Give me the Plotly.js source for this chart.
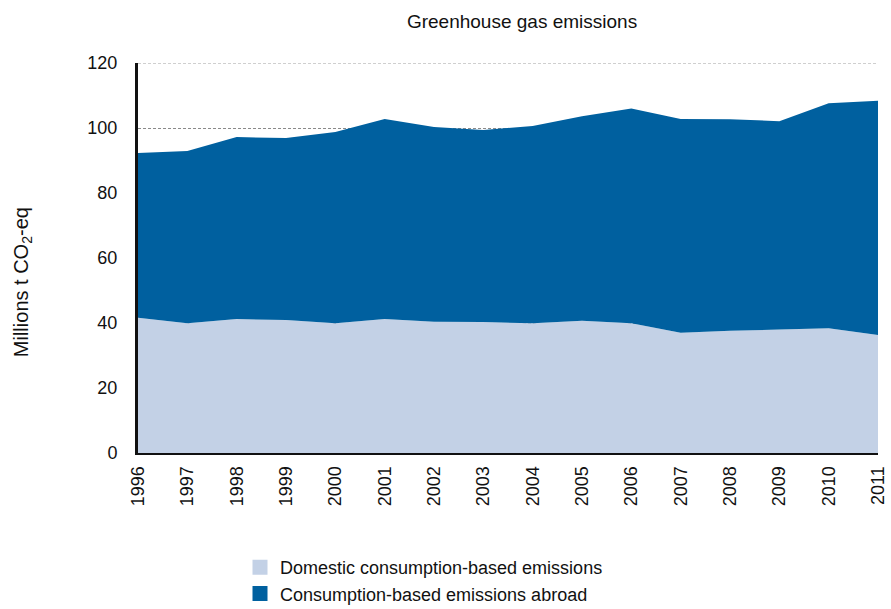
<!DOCTYPE html>
<html>
<head>
<meta charset="utf-8">
<script src="https://cdn.plot.ly/plotly-3.0.1.min.js"></script>
<style>html,body{margin:0;padding:0;background:#fff;}#chart{width:891px;height:609px;}</style>
</head>
<body>
<div id="chart"></div>
<script>
const years = [1996,1997,1998,1999,2000,2001,2002,2003,2004,2005,2006,2007,2008,2009,2010,2011];
const domestic = [41.6,39.9,41.2,40.9,39.9,41.2,40.4,40.3,39.9,40.7,39.9,37.0,37.6,38.0,38.4,36.3];
const abroad = [50.7,53.0,56.0,56.0,58.9,61.6,59.9,59.1,60.7,62.9,66.1,65.8,65.1,64.1,69.2,72.1];
const seriesNames = ['Domestic consumption-based emissions','Consumption-based emissions abroad'];
const colors = ['#c3d1e6', '#00609f'];
const yTicks = [0,20,40,60,80,100,120];
const yMax = 120;

const FONT = 'Liberation Sans, Arial, sans-serif';
const GRID = '#8a8a8a';
const traces = [
  {x: years, y: domestic, name: seriesNames[0], type: 'scatter', mode: 'none',
   stackgroup: 'one', fillcolor: colors[0], line: {width: 0}, showlegend: false},
  {x: years, y: abroad, name: seriesNames[1], type: 'scatter', mode: 'none',
   stackgroup: 'one', fillcolor: colors[1], line: {width: 0}, showlegend: false},
  // legend-only entries (square swatches)
  {x: [null], y: [null], name: seriesNames[0], type: 'bar',
   marker: {color: colors[0], line: {color: colors[0], width: 3}}},
  {x: [null], y: [null], name: seriesNames[1], type: 'bar',
   marker: {color: colors[1], line: {color: colors[1], width: 3}}}
];
const layout = {
  width: 891, height: 609,
  margin: {l: 138, r: 13, t: 63, b: 156},
  paper_bgcolor: '#fff', plot_bgcolor: '#fff',
  font: {family: FONT, color: '#111', size: 18},
  title: {text: 'Greenhouse gas emissions', x: 0.519, xref: 'paper', xanchor: 'center',
          y: 0.965, yanchor: 'middle',
          font: {family: FONT, size: 19, color: '#111'}},
  xaxis: {range: [years[0], years[years.length-1]], tickvals: years, ticktext: years.map(String), tickangle: -90,
          showgrid: false, zeroline: false, showline: true, linecolor: '#111', linewidth: 2,
          ticks: '', tickfont: {size: 18}, ticklabelstandoff: 4, automargin: false},
  yaxis: {range: [0, yMax], tickvals: yTicks, showgrid: true, gridcolor: GRID, griddash: '3px,2px',
          gridwidth: 1, zeroline: false, showline: true, linecolor: '#111', linewidth: 3,
          ticks: '', tickfont: {size: 18}, ticklabelstandoff: 14, automargin: false},
  shapes: [{type: 'line', xref: 'paper', yref: 'y', x0: 0, x1: 1, y0: yMax, y1: yMax,
            line: {color: '#a0a0a0', width: 1, dash: '3px,2px'}, layer: 'below'}],
  showlegend: true,
  legend: {x: (240-138)/740, xref: 'paper', xanchor: 'left', yref: 'container', y: (609-549)/609, yanchor: 'top',
           orientation: 'v', font: {size: 18, family: FONT}, traceorder: 'normal',
           tracegroupgap: 0, bgcolor: 'rgba(0,0,0,0)'},
  annotations: [{text: 'Millions t CO<sub>2</sub>-eq', xref: 'paper', yref: 'paper',
                 x: (22-138)/740, y: 0.438, xanchor: 'center', yanchor: 'middle',
                 textangle: -90, showarrow: false,
                 font: {size: 20, family: FONT, color: '#111'}}]
};
Plotly.newPlot('chart', traces, layout, {displayModeBar: false, staticPlot: true});
</script>
</body>
</html>
